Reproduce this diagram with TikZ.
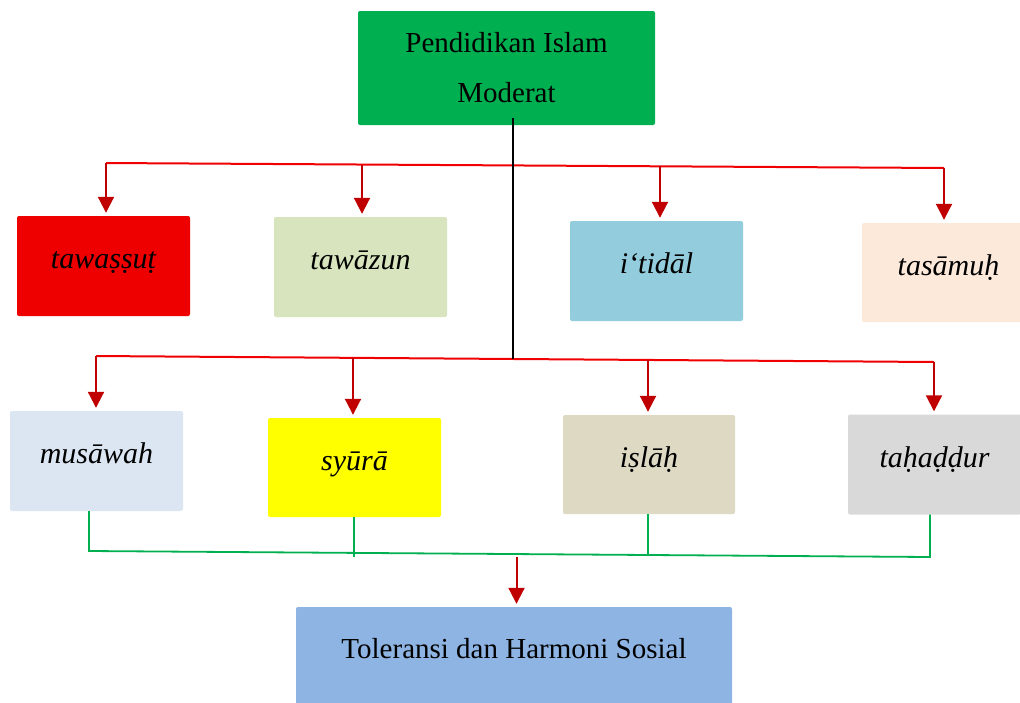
\documentclass[tikz,border=0pt]{standalone}
\usepackage{fontspec}
\setmainfont{Liberation Serif}
\usetikzlibrary{arrows.meta}
\definecolor{topgreen}{HTML}{00B050}
\definecolor{cRed}{HTML}{EE0000}
\definecolor{cOlive}{HTML}{D7E4BD}
\definecolor{cAqua}{HTML}{93CDDD}
\definecolor{cPeach}{HTML}{FDE9D9}
\definecolor{cPale}{HTML}{DCE6F2}
\definecolor{cYellow}{HTML}{FFFF00}
\definecolor{cTan}{HTML}{DDD9C3}
\definecolor{cGray}{HTML}{D9D9D9}
\definecolor{cBlue}{HTML}{8EB4E3}
\definecolor{arrowred}{HTML}{C00000}
\definecolor{busred}{HTML}{F00000}
\tikzset{
  valuebox/.style={rectangle, rounded corners=2pt, inner sep=0pt,
    minimum width=173pt, minimum height=100pt,
    font=\itshape\fontsize{30}{34}\selectfont, text height=15pt, text depth=10pt},
  arr/.style={draw=arrowred, line width=2pt, shorten >=3pt,
    -{Triangle[width=16pt,length=16pt]}},
  redbus/.style={draw=busred, line width=2pt},
  greenline/.style={draw=topgreen, line width=1.8pt},
  blackline/.style={draw=black, line width=1.8pt}
}
\begin{document}
\begin{tikzpicture}[x=1pt,y=-1pt]
\useasboundingbox (0,0) rectangle (1020,702);
\clip (0,0) rectangle (1020,702);
\fill[white] (0,0) rectangle (1020,702);
% top box
\node[rectangle, rounded corners=2pt, fill=topgreen, minimum width=297pt, minimum height=114pt,
  inner sep=0pt, align=center, font=\fontsize{29}{50}\selectfont] (top) at (506.5,68)
  {Pendidikan Islam\\Moderat};
% first row
\node[valuebox, fill=cRed] (tawassut) at (103.5,266) {tawaṣṣuṭ};
\node[valuebox, fill=cOlive] (tawazun) at (360.5,267) {tawāzun};
\node[valuebox, fill=cAqua] (itidal) at (656.5,271) {i‘tidāl};
\node[valuebox, fill=cPeach, minimum height=99pt] (tasamuh) at (948.5,272.5) {tasāmuḥ};
% second row
\node[valuebox, fill=cPale] (musawah) at (96.5,461) {musāwah};
\node[valuebox, fill=cYellow, minimum height=99pt] (syura) at (354.5,467.5) {syūrā};
\node[valuebox, fill=cTan, minimum width=172pt, minimum height=99pt] (islah) at (649,464.5) {iṣlāḥ};
\node[valuebox, fill=cGray] (tahaddur) at (934.5,464.5) {taḥaḍḍur};
% bottom box
\node[rectangle, rounded corners=2pt, fill=cBlue, minimum width=436pt, minimum height=98pt,
  inner sep=0pt, font=\fontsize{29}{34}\selectfont, text height=15pt, text depth=10pt]
  (result) at (514,656) {Toleransi dan Harmoni Sosial};
% first bus
\coordinate (a1) at (106,163);
\coordinate (a2) at (362,164.5);
\coordinate (a3) at (660,166.3);
\coordinate (a4) at (944,168);
\draw[redbus] (a1) -- (a4);
\draw[arr] (a1) -- (a1 |- tawassut.north);
\draw[arr] (a2) -- (a2 |- tawazun.north);
\draw[arr] (a3) -- (a3 |- itidal.north);
\draw[arr] (a4) -- (a4 |- tasamuh.north);
% second bus
\coordinate (b1) at (96,356);
\coordinate (b2) at (353,357.8);
\coordinate (bm) at (513,359);
\coordinate (b3) at (648,360);
\coordinate (b4) at (934,362);
\draw[redbus] (b1) -- (b4);
\draw[arr] (b1) -- (b1 |- musawah.north);
\draw[arr] (b2) -- (b2 |- syura.north);
\draw[arr] (b3) -- (b3 |- islah.north);
\draw[arr] (b4) -- (b4 |- tahaddur.north);
% trunk
\draw[blackline] ([xshift=6.5pt,yshift=7pt]top.south) -- (bm);
% green collector
\coordinate (g1) at (89,551);
\coordinate (g2) at (354,555);
\coordinate (g3) at (648,556);
\coordinate (g4) at (930,557);
\coordinate (gm) at (516.5,557);
\draw[greenline] (musawah.south -| g1) -- (g1) -- (g4) -- (tahaddur.south -| g4);
\draw[greenline] (syura.south -| g2) -- ([yshift=-2pt]g2);
\draw[greenline] (islah.south -| g3) -- (g3);
\draw[arr] (gm) -- (gm |- result.north);
\end{tikzpicture}
\end{document}
